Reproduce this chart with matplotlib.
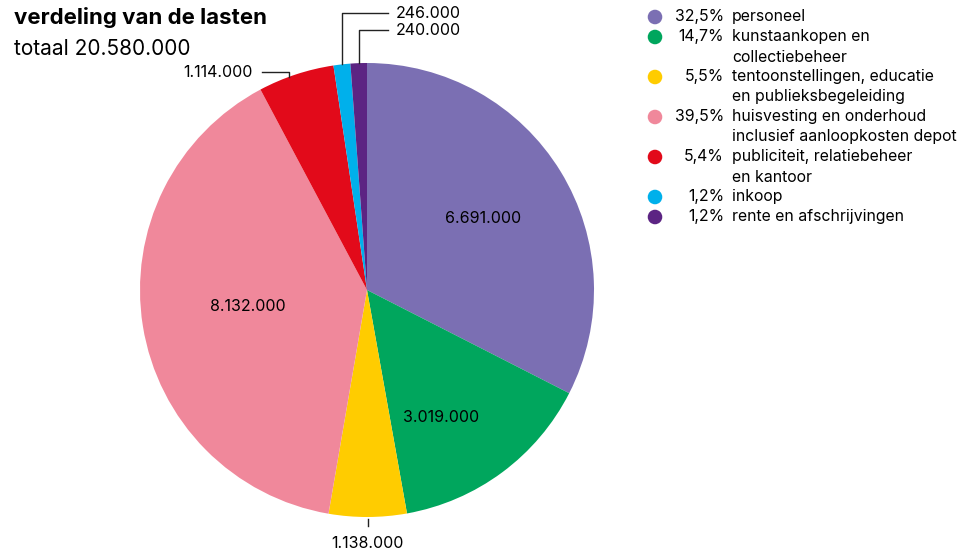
import matplotlib.pyplot as plt
import numpy as np

plt.rcParams['font.family'] = ['Inter', 'DejaVu Sans']

# ----------
# DATA
categories = [
    "personeel",
    "kunstaankopen en\ncollectiebeheer",
    "tentoonstellingen, educatie\nen publieksbegeleiding",
    "huisvesting en onderhoud\ninclusief aanloopkosten depot",
    "publiciteit, relatiebeheer\nen kantoor",
    "inkoop",
    "rente en afschrijvingen",
]
values = [6691000, 3019000, 1138000, 8132000, 1114000, 246000, 240000]
colors = ["#7B6FB3", "#00A65D", "#FFCC00", "#F0889B", "#E20A1A", "#00B0EB", "#5C2483"]

total = sum(values)


def nl(v):
    return f"{v:,}".replace(",", ".")


# ----------
# FIGURE
W, H = 962, 550
fig = plt.figure(figsize=(W / 100, H / 100), dpi=100)

cx, cy, r = 367, 290, 227
ax = fig.add_axes([(cx - r) / W, (H - cy - r) / H, 2 * r / W, 2 * r / H])
wedges, _ = ax.pie(values, colors=colors, startangle=90, counterclock=False,
                   radius=1, wedgeprops=dict(linewidth=0))
ax.set_xlim(-1, 1)
ax.set_ylim(-1, 1)
ax.set_aspect('equal')

mids = [np.deg2rad((w.theta1 + w.theta2) / 2) for w in wedges]
FS = 11.5

# labels inside the big slices (distance, angle shift in degrees)
inner = {0: (0.6, 0), 1: (0.65, -6.5), 3: (0.53, -1)}
for i, (d, da) in inner.items():
    a = mids[i] + np.deg2rad(da)
    ax.text(d * np.cos(a), d * np.sin(a), nl(values[i]),
            ha='center', va='center', fontsize=FS)

# bottom label (yellow)
a = mids[2]
ax.plot([np.cos(a), np.cos(a)], [-1.01, -1.04], color='#222222', lw=1, clip_on=False)
ax.text(np.cos(a), -1.115, nl(values[2]), ha='center', va='center', fontsize=FS)

# leader lines for the small slices on top
leaders = {4: (-0.03, 0.96, -0.4626, -0.502, 'right'),
           5: (0.0, 1.22, 0.0925, 0.128, 'left'),
           6: (0.0, 1.145, 0.0925, 0.128, 'left')}
for i, (dx, ly, hx, tx, ha) in leaders.items():
    x0 = np.cos(mids[i]) + dx
    y0 = np.sqrt(1 - x0 ** 2)
    ax.plot([x0, x0, hx], [y0, ly, ly], color='#222222', lw=1, clip_on=False)
    ax.text(tx, ly, nl(values[i]), ha=ha, va='center', fontsize=FS)

# titles
fig.text(14 / W, 1 - 18 / H, "verdeling van de lasten", fontsize=16,
         fontweight='bold', va='center', ha='left')
fig.text(14 / W, 1 - 49 / H, "totaal " + nl(total), fontsize=15,
         va='center', ha='left')

# legend
lax = fig.add_axes([0, 0, 1, 1])
lax.set_xlim(0, W)
lax.set_ylim(H, 0)
lax.axis('off')
row = 0
for cat, v, c in zip(categories, values, colors):
    y = 17 + 20 * row
    lax.scatter([655], [y], s=110, color=c, edgecolors='none')
    pct = f"{100 * v / total:.1f}%".replace(".", ",")
    lax.text(724, y, pct, ha='right', va='center', fontsize=11.4)
    lines = cat.split("\n")
    for k, line in enumerate(lines):
        lax.text(732, y + 20 * k, line, ha='left', va='center', fontsize=11.4)
    row += len(lines)

fig.savefig("out.png", dpi=100)
